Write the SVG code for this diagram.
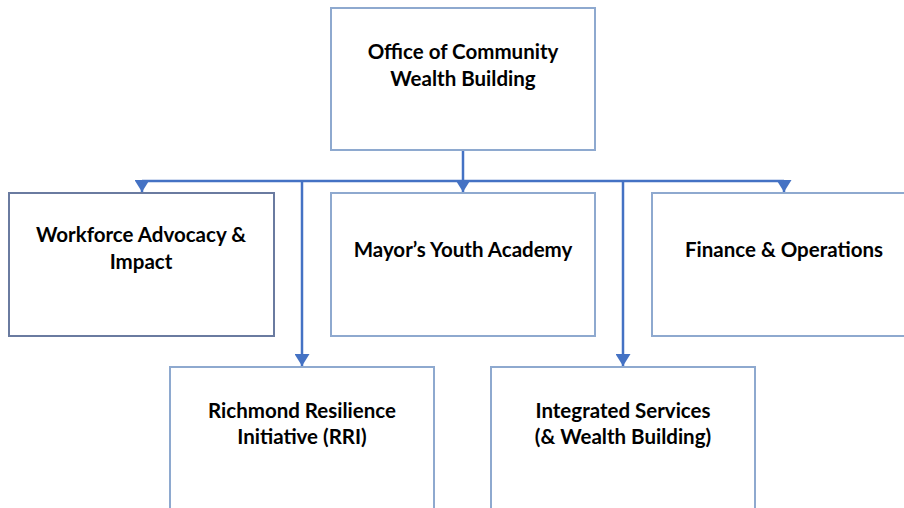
<svg xmlns="http://www.w3.org/2000/svg" width="904" height="508" viewBox="0 0 904 508">
<style>
.box{fill:#fff;stroke:#8ea9cf;stroke-width:2}
.dark{stroke:#6a7ba0}
.t{font-family:Lato,"Open Sans","Liberation Sans",sans-serif;font-weight:bold;font-size:20.5px;fill:#000;text-anchor:middle}
.c{fill:none;stroke:#4472c4;stroke-width:2.5}
</style>
<defs>
<marker id="ah" viewBox="0 0 12 15" refX="12" refY="7.5" markerWidth="12" markerHeight="15" markerUnits="userSpaceOnUse" orient="auto">
<path d="M0,0 L12,7.5 L0,15 z" fill="#4472c4"/>
</marker>
</defs>
<rect width="904" height="508" fill="#fff"/>
<g id="connectors">
<path class="c" d="M463,150 V192" marker-end="url(#ah)"/>
<path class="c" d="M142,181 H784"/>
<path class="c" d="M142,181 V192" marker-end="url(#ah)"/>
<path class="c" d="M784,181 V192" marker-end="url(#ah)"/>
<path class="c" d="M302,181 V366" marker-end="url(#ah)"/>
<path class="c" d="M623,181 V366" marker-end="url(#ah)"/>
</g>
<g id="office">
<rect class="box" x="331" y="8" width="264" height="142"/>
<text class="t" x="463" y="59">Office of Community</text>
<text class="t" x="463" y="86">Wealth Building</text>
</g>
<g id="workforce">
<rect class="box dark" x="9" y="193" width="265" height="143"/>
<text class="t" x="141" y="242">Workforce Advocacy &amp;</text>
<text class="t" x="141" y="269">Impact</text>
</g>
<g id="mya">
<rect class="box" x="331" y="193" width="264" height="143"/>
<text class="t" x="463" y="257">Mayor’s Youth Academy</text>
</g>
<g id="finance">
<rect class="box" x="652" y="193" width="264" height="143"/>
<text class="t" x="784" y="257">Finance &amp; Operations</text>
</g>
<g id="rri">
<rect class="box" x="170" y="367" width="264" height="150"/>
<text class="t" x="302" y="418">Richmond Resilience</text>
<text class="t" x="302" y="444">Initiative (RRI)</text>
</g>
<g id="integrated">
<rect class="box" x="491" y="367" width="264" height="150"/>
<text class="t" x="623" y="418">Integrated Services</text>
<text class="t" x="623" y="444">(&amp; Wealth Building)</text>
</g>
</svg>
